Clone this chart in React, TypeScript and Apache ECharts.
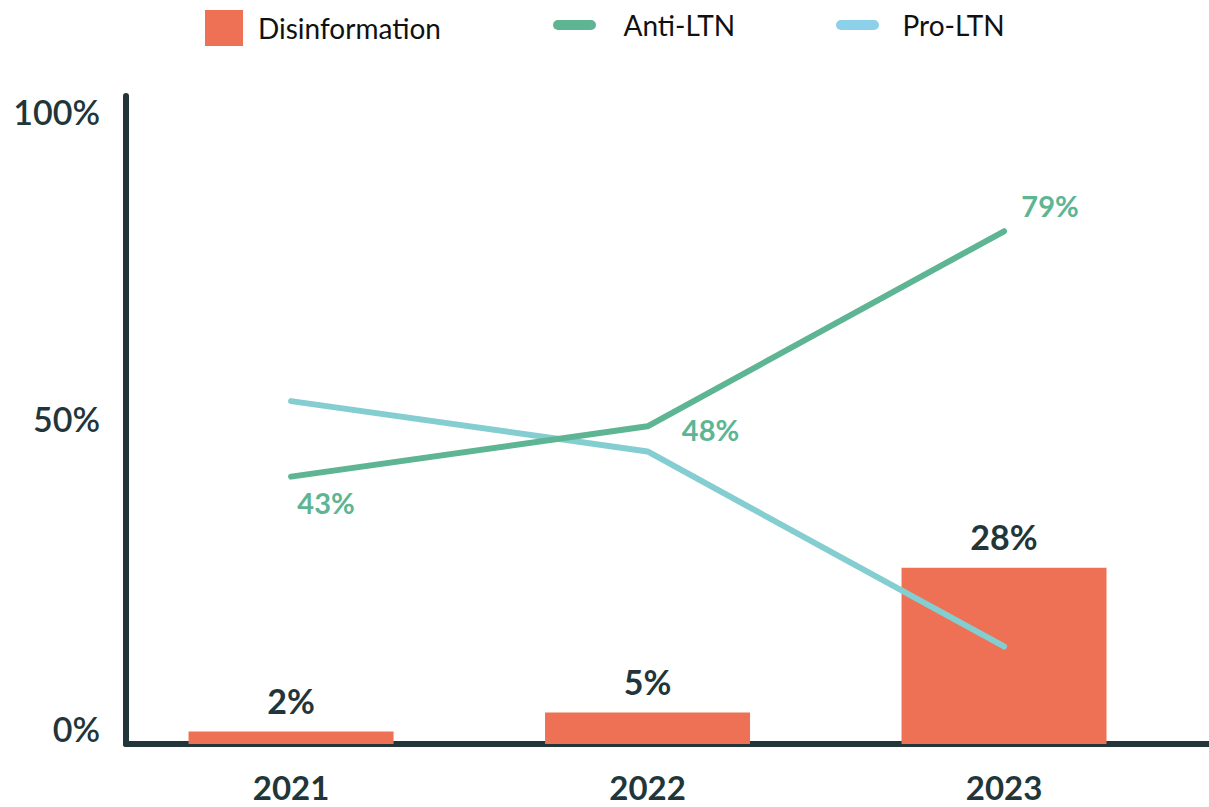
import React, { useEffect, useRef } from "react";
import * as echarts from "echarts";

const years = ["2021", "2022", "2023"];
const disinformation = [2, 5, 28];
const antiLTN = [42.5, 50.5, 81.5];
const proLTN = [54.5, 46.5, 15.5];
const antiLabels = ["43%", "48%", "79%"];
const yTicks = [0, 50, 100];

const DARK = "#22363a";
const ORANGE = "#ee7155";
const GREEN = "#5db594";
const TEAL = "#84cdd0";
const LEGEND_BLUE = "#8dd0ea";
const FONT = "Lato, 'Noto Sans', sans-serif";

const antiLabelOffsets = [
  [35, 26],
  [63, 3],
  [46, -26],
];

export default function App() {
  const ref = useRef<HTMLDivElement>(null);
  useEffect(() => {
    if (!ref.current) return;
    const chart = echarts.init(ref.current, null, { renderer: "svg" });
    const pill = "path://M5,0 H38 A5,5 0 0 1 38,10 H5 A5,5 0 0 1 5,0 Z";
    const yRich: any = {};
    const shifts: Record<number, number> = { 0: 32, 50: 22, 100: 6 };
    yTicks.forEach((t) => {
      yRich["t" + t] = {
        fontFamily: FONT,
        fontSize: 34,
        fontWeight: 600,
        color: DARK,
        padding: [0, 0, shifts[t] ?? 0, 0],
      };
    });
    chart.setOption({
      animation: false,
      backgroundColor: "#ffffff",
      grid: { left: 126, right: 0, top: 96, bottom: 63 },
      legend: [
        {
          left: 205,
          top: 10,
          padding: 0,
          itemWidth: 38,
          itemHeight: 36,
          icon: "rect",
          data: ["Disinformation"],
          textStyle: { fontFamily: FONT, fontSize: 28, color: "#111111", padding: [0, 0, 0, 10] },
        },
        {
          left: 553,
          top: 11,
          padding: 0,
          itemWidth: 44,
          itemHeight: 10,
          icon: pill,
          data: [{ name: "Anti-LTN", itemStyle: { color: GREEN } }],
          textStyle: { fontFamily: FONT, fontSize: 28, color: "#111111", padding: [0, 0, 0, 22] },
        },
        {
          left: 836,
          top: 11,
          padding: 0,
          itemWidth: 44,
          itemHeight: 10,
          icon: pill,
          data: [{ name: "Pro-LTN", itemStyle: { color: LEGEND_BLUE } }],
          textStyle: { fontFamily: FONT, fontSize: 28, color: "#111111", padding: [0, 0, 0, 18] },
        },
      ],
      xAxis: {
        type: "value",
        min: 2020.537,
        max: 2023.575,
        axisLine: { show: true, lineStyle: { color: DARK, width: 6 } },
        axisTick: { show: false },
        splitLine: { show: false },
        axisLabel: {
          customValues: years.map((y) => Number(y)),
          formatter: (v: number) => String(v),
          fontFamily: FONT,
          fontSize: 33,
          fontWeight: "bold",
          color: DARK,
          margin: 26,
        },
      },
      yAxis: {
        type: "value",
        min: 0,
        max: 103,
        interval: 50,
        axisLine: { show: true, lineStyle: { color: DARK, width: 6 } },
        axisTick: { show: false },
        splitLine: { show: false },
        axisLabel: {
          margin: 26,
          formatter: (v: number) => (yTicks.includes(v) ? `{t${v}|${v}%}` : ""),
          rich: yRich,
        },
      },
      series: [
        {
          name: "Disinformation",
          type: "bar",
          barWidth: 205,
          itemStyle: { color: ORANGE },
          data: years.map((y, i) => [Number(y), disinformation[i]]),
          label: {
            show: true,
            position: "top",
            distance: 14,
            formatter: (p: any) => `${p.value[1]}%`,
            fontFamily: FONT,
            fontSize: 34,
            fontWeight: "bold",
            color: DARK,
          },
          z: 1,
        },
        {
          name: "Pro-LTN",
          type: "line",
          symbol: "circle",
          symbolSize: 1,
          showSymbol: true,
          itemStyle: { color: TEAL },
          lineStyle: { color: TEAL, width: 6, cap: "round", join: "round" },
          data: years.map((y, i) => [Number(y), proLTN[i]]),
          z: 2,
        },
        {
          name: "Anti-LTN",
          type: "line",
          symbol: "circle",
          symbolSize: 1,
          showSymbol: true,
          itemStyle: { color: GREEN },
          lineStyle: { color: GREEN, width: 6, cap: "round", join: "round" },
          data: years.map((y, i) => ({
            value: [Number(y), antiLTN[i]],
            label: { offset: antiLabelOffsets[i] },
          })),
          label: {
            show: true,
            position: "inside",
            formatter: (p: any) => antiLabels[p.dataIndex],
            fontFamily: FONT,
            fontSize: 29,
            fontWeight: "bold",
            color: GREEN,
          },
          z: 3,
        },
      ],
    });
    return () => chart.dispose();
  }, []);
  return (
    <div
      ref={ref}
      style={{ position: "absolute", left: 0, top: 0, width: 1209, height: 807 }}
    />
  );
}
